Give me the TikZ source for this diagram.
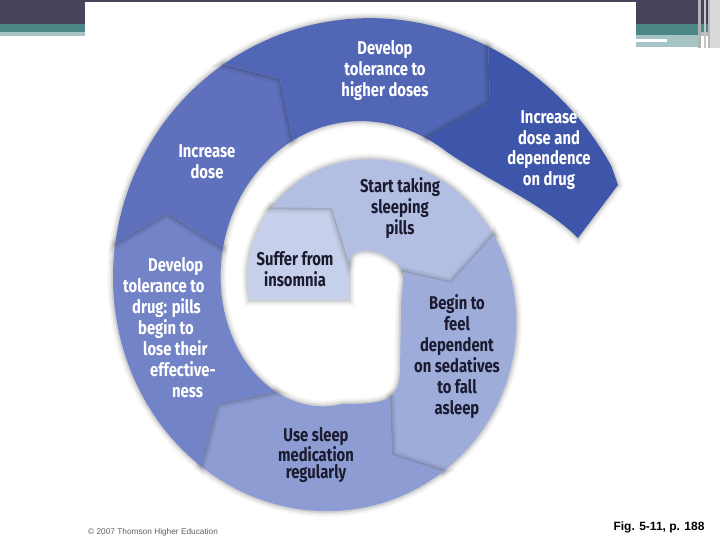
\documentclass[tikz,border=0pt]{standalone}
\usepackage{fontspec}
\setmainfont{Fira Sans}
\newfontfamily\lblfont[FakeStretch=0.8]{Fira Sans}
\newfontfamily\figfont{Liberation Sans}
\definecolor{bandDark}{HTML}{46445A}
\definecolor{bandTeal}{HTML}{4C8787}
\definecolor{bandLight}{HTML}{A6C3C6}
\definecolor{cA}{HTML}{C7D0EA}
\definecolor{cB}{HTML}{B3BFE2}
\definecolor{cC}{HTML}{9EACDA}
\definecolor{cD}{HTML}{8D9DD3}
\definecolor{cE}{HTML}{7383C7}
\definecolor{cF}{HTML}{5F71BD}
\definecolor{cG}{HTML}{5166B5}
\definecolor{cH}{HTML}{3E56A9}
\definecolor{txtdark}{HTML}{1B1B2F}
\newcommand\lblsize{\fontsize{18.5}{21}\selectfont}
\begin{document}
\begin{tikzpicture}[x=1pt,y=-1pt,
  declare function={ro(\a)=139+0.3944*\a; ox(\a)=348.4+0.955*ro(\a)*sin(\a); oy(\a)=300-ro(\a)*cos(\a);
    ri(\a)=34.25+0.3944*\a; ix(\a)=341.7+0.85*ri(\a)*sin(\a); iy(\a)=298.75-ri(\a)*cos(\a);},
  seg/.style={line join=round,
    preaction={draw=black, line width=11pt, opacity=0.04},
    preaction={draw=black, line width=7pt, opacity=0.06},
    preaction={draw=black, line width=3.5pt, opacity=0.09}},
  lbl/.style={font=\lblfont\bfseries\lblsize, align=center, inner sep=0pt, text=txtdark},
  lblw/.style={lbl, text=white}]
\useasboundingbox (0,0) rectangle (720,540);
% background bands
\fill[bandDark] (0,0) rectangle (720,24);
\fill[bandTeal] (0,24) rectangle (720,32);
\fill[bandLight] (0,32) rectangle (720,36);
\fill[bandTeal] (636,24) rectangle (700,35);
\fill[bandLight] (636,35) rectangle (700,47);
\fill[white] (636,39) rectangle (667,42);
\fill[gray!60] (698,0) rectangle (701,48);
\fill[gray!45] (704,0) rectangle (706,48);
\fill[gray!55] (708,0) rectangle (710,48);
\fill[gray!30] (710,0) rectangle (720,48);
\fill[white] (85,2) rectangle (636,540);
% spiral segments
\fill[cA, seg] (349,300) -- ({ox(-90)},{oy(-90)}) -- plot[domain=-90:-41,samples=25,variable=\t] ({ox(\t)},{oy(\t)}) -- (332,208) -- (349,262) -- cycle;
\fill[cB, seg] ({ox(-41)},{oy(-41)}) -- plot[domain=-41:67,samples=50,variable=\t] ({ox(\t)},{oy(\t)}) -- (451,283) -- (403,272) .. controls (400,266) and (395,262) .. (385,256) .. controls (370,248) and (351,249) .. (349,262) -- (332,208) -- cycle;
\fill[cC, seg] ({ox(67)},{oy(67)}) -- plot[domain=67:150,samples=40,variable=\t] ({ox(\t)},{oy(\t)}) -- (392,455) -- (390,397) .. controls (395,393) and (399,386) .. (400,372) -- (401,305) .. controls (401,295) and (404,284) .. (403,272) -- (451,283) -- cycle;
\fill[cD, seg] ({ox(150)},{oy(150)}) -- plot[domain=150:223,samples=35,variable=\t] ({ox(\t)},{oy(\t)}) -- (217,404) -- plot[domain=220:180,samples=20,variable=\t] ({ix(\t)},{iy(\t)}) .. controls (365,404) and (381,403) .. (390,397) -- (392,455) -- cycle;
\fill[cE, seg] ({ox(223)},{oy(223)}) -- plot[domain=223:283,samples=30,variable=\t] ({ox(\t)},{oy(\t)}) -- (167,213) -- plot[domain=290:220,samples=30,variable=\t] ({ix(\t)},{iy(\t)}) -- (217,404) -- cycle;
\fill[cF, seg] ({ox(283)},{oy(283)}) -- plot[domain=283:331,samples=25,variable=\t] ({ox(\t)},{oy(\t)}) -- (280,79) -- plot[domain=340:290,samples=25,variable=\t] ({ix(\t)},{iy(\t)}) -- (167,213) -- cycle;
\fill[cG, seg] ({ox(331)},{oy(331)}) -- plot[domain=331:390,samples=30,variable=\t] ({ox(\t)},{oy(\t)}) -- (490,103) -- plot[domain=392:340,samples=25,variable=\t] ({ix(\t)},{iy(\t)}) -- (280,79) -- cycle;
\fill[cH, seg] ({ox(390)},{oy(390)}) -- plot[domain=390:424,samples=20,variable=\t] ({ox(\t)},{oy(\t)}) -- (618,185) -- (578,238) .. controls (545,205) and (487,180) .. ({ix(400)},{iy(400)}) -- plot[domain=400:392,samples=6,variable=\t] ({ix(\t)},{iy(\t)}) -- (490,103) -- cycle;
% labels
\node[lbl] (suffer) at (295,269) {Suffer from\\insomnia};
\node[lbl] (start) at (400,208) {Start taking\\sleeping\\pills};
\node[lbl] (begin) at (457,357) {Begin to\\feel\\dependent\\on sedatives\\to fall\\asleep};
\node[lbl, font=\lblfont\bfseries\fontsize{18.5}{17}\selectfont] (use) at (316,455) {Use sleep\\medication\\regularly};
\node[lblw, align=left, anchor=west] (devdrug) at (123,328) {\hspace*{25pt}Develop\\tolerance to\\\hspace*{9pt}drug: pills\\\hspace*{15pt}begin to\\\hspace*{20pt}lose their\\\hspace*{27pt}effective-\\\hspace*{49pt}ness};
\node[lblw] (incdose) at (207,162) {Increase\\dose};
\node[lblw] (devhigh) at (385,71) {Develop\\tolerance to\\higher doses};
\node[lblw, font=\lblfont\bfseries\fontsize{18.5}{20.5}\selectfont] (incdep) at (549,150) {Increase\\dose and\\dependence\\on drug};
% footer
\node[anchor=west, inner sep=0pt, font=\figfont\fontsize{8.3}{10}\selectfont, text=gray!75!black] (copy) at (88,532) {© 2007 Thomson Higher Education};
\node[inner sep=0pt, font=\figfont\bfseries\fontsize{12}{14}\selectfont] (fig) at (659,527) {Fig. 5-11, p. 188};
\end{tikzpicture}
\end{document}
